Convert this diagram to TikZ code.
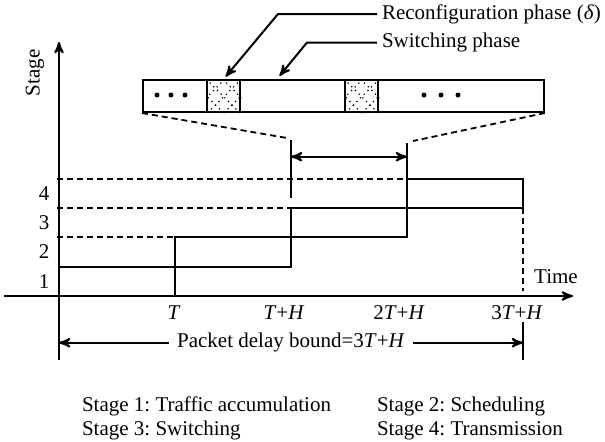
\documentclass[tikz,border=0pt]{standalone}
\usepackage{fontspec}
\setmainfont{Liberation Serif}
\usetikzlibrary{arrows}
\frenchspacing

\begin{document}
\begin{tikzpicture}[x=0.5pt, y=-0.5pt, >=stealth', line width=1pt, font=\fontsize{10.5}{12.6}\selectfont]
 % Define block styles
	\tikzstyle{level} = [dash pattern=on 3pt off 2pt, line width=0.9pt]
	\tikzstyle{phase} = [draw, rectangle, anchor=north west, inner sep=0pt, minimum height=16pt]
	\tikzstyle{reconf} = [phase, minimum width=16.5pt, line width=1.2pt]
	\tikzstyle{ticktext} = [inner sep=0pt]
	\tikzstyle{legend} = [anchor=base west, inner sep=0pt]
	\useasboundingbox (0,0) rectangle (605,441);
%%====Assi===============================================================
	\coordinate (O) at (59,296);
	\coordinate (xl) at (4,296);
	\coordinate (xr) at (573,296);
	\coordinate (yt) at (59,42);
	\coordinate (yb) at (59,360);
	\draw[->] (yb) -- (yt);
	\draw[->] (xl) -- (xr);
	\node[rotate=90] (stagelbl) at (35,73) {Stage};
	\node (timelbl) at (556,277) {Time};
%%====Stadi===============================================================
	\foreach \i in {0,...,3}
		\draw (59+116*\i,296-29.3*\i) rectangle ++(116,-29.3);
	\foreach \x/\y in {407/178.7, 291/208, 175/237.3}
		\draw[level] (57,\y) -- (\x,\y);
	\draw[level] (523,208) -- (523,291);
	\foreach \n/\y in {1/281.3, 2/252, 3/222.7, 4/193.3}
		\node[ticktext] (st\n) at (44,\y) {\n};
	\node[ticktext] (tT)   at (174,313) {\textit{T}};
	\node[ticktext] (tTH)  at (284,313) {\textit{T}+\textit{H}};
	\node[ticktext] (t2TH) at (399,313) {2\textit{T}+\textit{H}};
	\node[ticktext] (t3TH) at (517,313) {3\textit{T}+\textit{H}};
%%====Finestra di switching===============================================
	\node[phase, minimum width=200.5pt] (window) at (142,79) {};
	\node[reconf] (rc1) at (206,79) {};
	\node[reconf] (rc2) at (344,79) {};
	\foreach \b in {rc1,rc2} {
		\begin{scope}
			\clip (\b.south west) rectangle (\b.north east);
			\foreach \c in {-16.5,0,16.5} {
				\draw[dotted, line width=0.6pt] (\b.north west) ++(\c,0) -- ++(34,34);
				\draw[dotted, line width=0.6pt] (\b.north east) ++(-\c,0) -- ++(-34,34);
			}
		\end{scope}
	}
	\foreach \x in {157,171,185,424,441,458}
		\fill (\x,95) circle[radius=1.25pt];
	\coordinate (zl) at (287,138);
	\coordinate (zr) at (413,141);
	\draw[level] (window.south west) -- (zl);
	\draw[level] (window.south east) -- (zr);
%%====Frecce fasi=========================================================
	\node[anchor=west, inner sep=2pt] (rtext) at (377,14) {Reconfiguration phase (\textit{δ})};
	\node[anchor=west, inner sep=2pt] (stext) at (377,42.5) {Switching phase};
	\coordinate (swtip) at (277,79);
	\draw[->, shorten >=1.5pt] (rtext.west) -- ++(-99,0) -- (rc1.north);
	\draw[->, shorten >=2pt] (stext.west) -- ++(-70,0) -- (swtip);
%%====Intervallo H========================================================
	\coordinate (ha) at (291,156.7);
	\coordinate (hb) at (407,156.7);
	\draw (291,140) -- (291,198);
	\draw (407,143) -- (407,179);
	\draw[<->] (ha) -- (hb);
%%====Ritardo=============================================================
	\coordinate (bl) at (59,342.7);
	\coordinate (br) at (523,342.7);
	\draw (523,322) -- (523,360);
	\draw[<->] (bl) -- node[fill=white, inner xsep=4pt, inner ysep=1pt] (bound) {Packet delay bound=3\textit{T}+\textit{H}} (br);
%%====Legenda=============================================================
	\node[legend] (leg1) at (81,411) {Stage 1: Traffic accumulation};
	\node[legend] (leg2) at (376,411) {Stage 2: Scheduling};
	\node[legend] (leg3) at (81,435) {Stage 3: Switching};
	\node[legend] (leg4) at (376,435) {Stage 4: Transmission};
\end{tikzpicture}
\end{document}
